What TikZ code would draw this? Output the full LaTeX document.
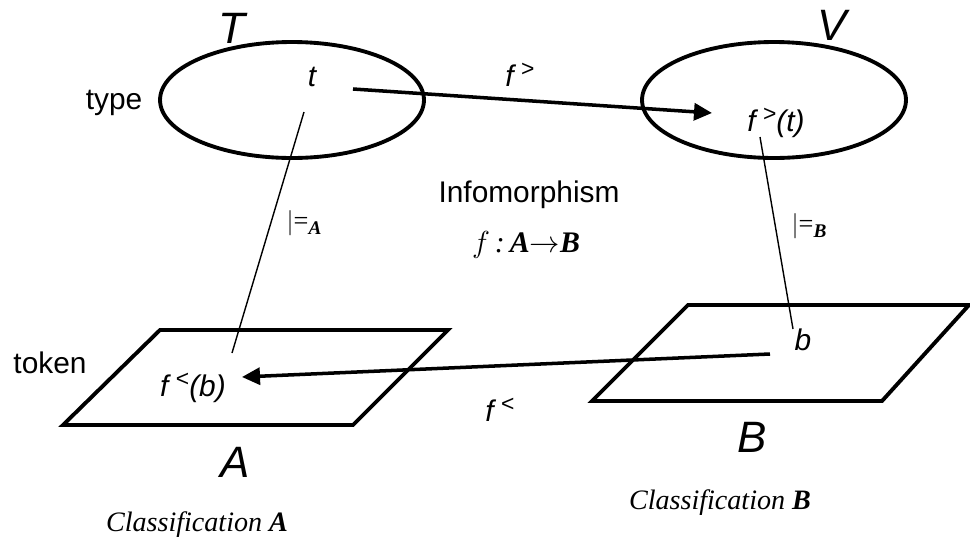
\documentclass[tikz,border=0pt]{standalone}
\usepackage{fontspec}
\setmainfont{Liberation Serif}
\setsansfont{Liberation Sans}
\usetikzlibrary{arrows.meta}

\newcommand{\upmark}[1]{\hspace{0.25em}\raisebox{0.6ex}{\upshape\fontsize{13}{13}\selectfont #1}}

\begin{document}
\begin{tikzpicture}[x=0.02cm,y=-0.02cm,
  outline/.style={line width=2.2pt,line join=miter},
  lbl/.style={font=\sffamily\fontsize{17}{20}\selectfont,inner sep=0pt},
  var/.style={font=\sffamily\itshape\fontsize{17}{20}\selectfont,inner sep=0pt},
  big/.style={font=\sffamily\itshape\fontsize{25}{28}\selectfont,inner sep=0pt},
  cls/.style={font=\rmfamily\itshape\fontsize{16}{19}\selectfont,inner sep=0pt},
  rel/.style={font=\rmfamily\fontsize{15}{18}\selectfont,inner sep=0pt},
  arr/.style={-{Triangle[length=3.6mm,width=3.4mm]},line width=2pt},
  thin/.style={line width=0.8pt}]
  \useasboundingbox (0,0) rectangle (970,548);
  % type sets and token sets
  \draw[outline] (292,100) ellipse (2.64cm and 1.16cm);
  \draw[outline] (774,100) ellipse (2.64cm and 1.16cm);
  \draw[outline] (63,425) -- (160,330) -- (448,330) -- (353,425) -- cycle;
  \draw[outline] (592,401) -- (688,305) -- (969,305) -- (882,401) -- cycle;
  % labels
  \node[big] (T) at (232,28) {T};
  \node[big] (V) at (832,25) {V};
  \node[big] (A) at (235,462) {A};
  \node[big] (B) at (752,437) {B};
  \node[lbl] (type) at (114,103) {type};
  \node[lbl] (token) at (50,363) {token};
  \node[var] (t) at (312,77) {t};
  \node[var] (ft) at (776,123) {f\upmark{>}(t)};
  \node[var] (b) at (803,340) {b};
  \node[var] (fb) at (193,388) {f\upmark{<}(b)};
  \node[var] (fup) at (520,75) {f\upmark{>}};
  \node[var] (fdown) at (500,410) {f\upmark{<}};
  \node[lbl] (info) at (529,195) {Infomorphism};
  \node[cls,font=\rmfamily\itshape\fontsize{17}{20}\selectfont] (morph) at (526,245) {$f$\,:\,\textbf{A}$\rightarrow$\textbf{B}};
  \node[rel] (relA) at (304,223) {$|$=\raisebox{-0.4ex}{\fontsize{11}{11}\selectfont\bfseries\itshape A}};
  \node[rel] (relB) at (809,226) {$|$=\raisebox{-0.4ex}{\fontsize{11}{11}\selectfont\bfseries\itshape B}};
  \node[cls] (clsA) at (197,525) {Classification \textbf{A}};
  \node[cls] (clsB) at (720,503) {Classification \textbf{B}};
  % connector ends
  \coordinate (t-out) at (353,89);
  \coordinate (ft-in) at (712,113);
  \coordinate (b-out) at (770,354);
  \coordinate (fb-in) at (242,377);
  \coordinate (t-low) at (304,112);
  \coordinate (fb-up) at (232,353);
  \coordinate (ft-low) at (760,137);
  \coordinate (b-up) at (793,329);
  \draw[arr] (t-out) -- (ft-in);
  \draw[arr] (b-out) -- (fb-in);
  \draw[thin] (t-low) -- (fb-up);
  \draw[thin] (ft-low) -- (b-up);
\end{tikzpicture}
\end{document}
